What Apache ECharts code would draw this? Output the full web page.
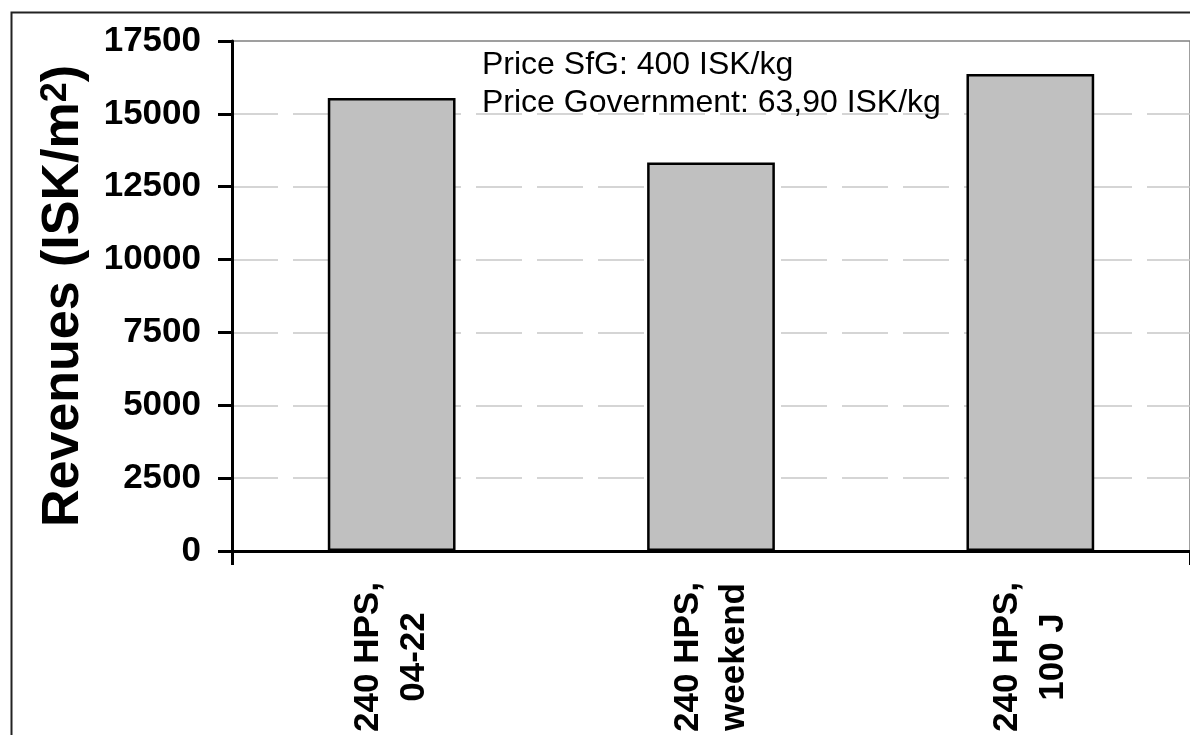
<!DOCTYPE html>
<html>
<head>
<meta charset="utf-8">
<script src="https://cdn.jsdelivr.net/npm/echarts@6.0.0/dist/echarts.min.js"></script>
<style>
  html, body { margin: 0; padding: 0; background: #fff; }
  #chart { width: 1190px; height: 735px; }
</style>
</head>
<body>
<div id="chart"></div>
<script>
// data
var categories = ['240 HPS,\n04-22', '240 HPS,\nweekend', '240 HPS,\n100 J'];
var revenues = [15540, 13330, 16370];
var priceNotes = ['Price SfG: 400 ISK/kg', 'Price Government: 63,90 ISK/kg'];

var FONT = '"Liberation Sans", Arial, sans-serif';

var chart = echarts.init(document.getElementById('chart'));

var option = {
  backgroundColor: '#fff',
  animation: false,
  grid: {
    left: 232,
    top: 41,
    width: 966,
    height: 510,
    show: true,
    borderColor: '#808080',
    borderWidth: 1.5,
    backgroundColor: 'transparent'
  },
  xAxis: {
    type: 'category',
    data: categories,
    axisLine: { lineStyle: { color: '#000', width: 3 } },
    // only the corner tick below the origin
    axisTick: {
      show: true,
      interval: function (i) { return i === 0; },
      length: 14,
      lineStyle: { color: '#000', width: 3 }
    },
    axisLabel: {
      rotate: 90,
      align: 'center',
      margin: 106,
      color: '#000',
      fontFamily: FONT,
      fontWeight: 'bold',
      fontSize: 35,
      lineHeight: 46
    },
    splitLine: { show: false }
  },
  yAxis: {
    type: 'value',
    min: 0,
    max: 17500,
    interval: 2500,
    name: '{a|Revenues (ISK/m}{s|2}{a|)}',
    nameLocation: 'middle',
    nameGap: 142,
    nameTextStyle: {
      rich: {
        a: { fontFamily: FONT, fontWeight: 'bold', fontSize: 52, color: '#000' },
        s: { fontFamily: FONT, fontWeight: 'bold', fontSize: 36, color: '#000', verticalAlign: 'top' }
      }
    },
    axisLine: { show: true, lineStyle: { color: '#000', width: 3 } },
    axisTick: { show: true, length: 14, lineStyle: { color: '#000', width: 3 } },
    axisLabel: {
      margin: 31,
      color: '#000',
      fontFamily: FONT,
      fontWeight: 'bold',
      fontSize: 35,
      formatter: function (v) { return String(v); }
    },
    splitLine: {
      show: true,
      showMinLine: false,
      showMaxLine: false,
      lineStyle: { color: '#c8c8c8', width: 1.5, type: [46, 15] }
    }
  },
  series: [{
    type: 'bar',
    data: revenues,
    barWidth: '40%',
    itemStyle: { color: '#c0c0c0', borderColor: '#000', borderWidth: 2.5 }
  }],
  graphic: [
    {
      type: 'rect',
      left: 9, top: 10,
      shape: { width: 1400, height: 1000 },
      style: { fill: 'none', stroke: '#222', lineWidth: 2 },
      z: 0
    },
    {
      type: 'text',
      left: 482, top: 46,
      style: {
        text: priceNotes.join('\n'),
        font: '32px ' + FONT,
        fill: '#000',
        lineHeight: 38
      },
      z: 10
    }
  ]
};

chart.setOption(option);
</script>
</body>
</html>
